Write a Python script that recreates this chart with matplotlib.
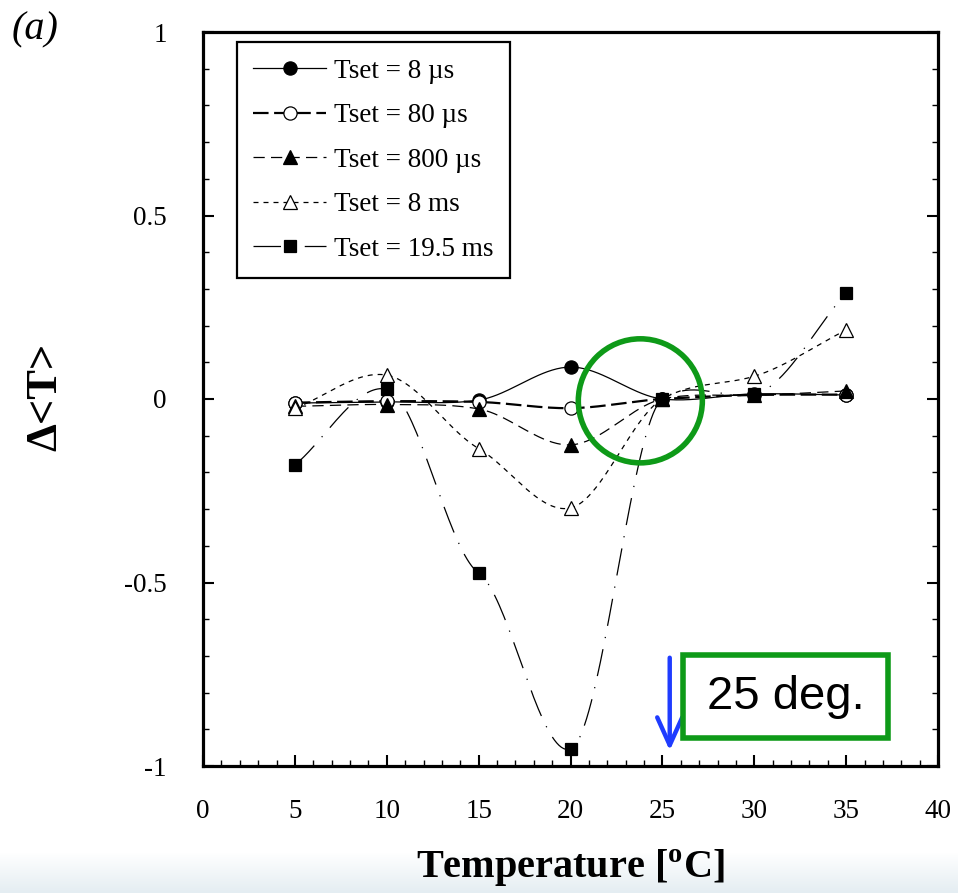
import numpy as np
import matplotlib
matplotlib.use("Agg")
import matplotlib.pyplot as plt
from matplotlib.lines import Line2D
from matplotlib.patches import Ellipse, Rectangle
from matplotlib.ticker import MultipleLocator, FuncFormatter
from matplotlib.colors import LinearSegmentedColormap

plt.rcParams['font.family'] = ['Liberation Serif', 'DejaVu Serif']
plt.rcParams['axes.unicode_minus'] = False
plt.rcParams['mathtext.fontset'] = 'custom'
plt.rcParams['mathtext.rm'] = 'Liberation Serif:bold'
plt.rcParams['mathtext.bf'] = 'Liberation Serif:bold'

# ---- data ----
temperature = [5, 10, 15, 20, 25, 30, 35]
t_8us = [-0.011, -0.008, -0.003, 0.087, 0.0, 0.014, 0.011]
t_80us = [-0.010, -0.006, -0.008, -0.025, 0.0, 0.011, 0.012]
t_800us = [-0.020, -0.015, -0.027, -0.125, 0.0, 0.010, 0.022]
t_8ms = [-0.025, 0.065, -0.135, -0.297, 0.0, 0.062, 0.188]
t_19ms = [-0.180, 0.027, -0.474, -0.954, 0.0, 0.013, 0.289]
labels = ['Tset = 8 \u00b5s', 'Tset = 80 \u00b5s', 'Tset = 800 \u00b5s',
          'Tset = 8 ms', 'Tset = 19.5 ms']


def smooth(x, y, n=40, k=0.8):
    """Cubic Hermite (Catmull-Rom style) curve through the points."""
    x = np.asarray(x, float)
    y = np.asarray(y, float)
    m = np.zeros_like(y)
    m[1:-1] = k * (y[2:] - y[:-2]) / (x[2:] - x[:-2])
    m[0] = (y[1] - y[0]) / (x[1] - x[0])
    m[-1] = (y[-1] - y[-2]) / (x[-1] - x[-2])
    xs, ys = [], []
    for i in range(len(x) - 1):
        h = x[i + 1] - x[i]
        t = np.linspace(0, 1, n, endpoint=(i == len(x) - 2))
        h00 = 2 * t**3 - 3 * t**2 + 1
        h10 = t**3 - 2 * t**2 + t
        h01 = -2 * t**3 + 3 * t**2
        h11 = t**3 - t**2
        xs.append(x[i] + t * h)
        ys.append(h00 * y[i] + h10 * h * m[i] + h01 * y[i + 1] + h11 * h * m[i + 1])
    return np.concatenate(xs), np.concatenate(ys)


fig = plt.figure(figsize=(9.58, 8.93), dpi=100)

# light gradient band at the bottom
bg = fig.add_axes([0, 0, 1, 0.045], zorder=-5)
grad = np.linspace(0, 1, 100).reshape(-1, 1)
cm = LinearSegmentedColormap.from_list('band', ['#e4edf2', '#ffffff'])
bg.imshow(grad, aspect='auto', cmap=cm, origin='lower', extent=[0, 1, 0, 1])
bg.set_axis_off()

ax = fig.add_axes([203 / 958, 127 / 893, 735 / 958, 734 / 893])
ax.set_xlim(0, 40)
ax.set_ylim(-1, 1)

series = [
    (t_8us, dict(ls='-', lw=0.9), dict(marker='o', mfc='black', ms=9.5), 0.8),
    (t_80us, dict(ls=(0, (7, 2.5)), lw=1.6), dict(marker='o', mfc='white', ms=9.5), 0.8),
    (t_800us, dict(ls=(0, (9, 5)), lw=0.9), dict(marker='^', mfc='black', ms=9.5), 0.8),
    (t_8ms, dict(ls=(0, (4, 4)), lw=0.9), dict(marker='^', mfc='white', ms=9.5), 0.8),
    (t_19ms, dict(ls=(0, (22, 9, 1, 9)), lw=0.9), dict(marker='s', mfc='black', ms=9), 0.35),
]

handles = []
for i, (vals, lsty, msty, k) in enumerate(series):
    sx, sy = smooth(temperature, vals, k=k)
    ax.plot(sx, sy, color='black', zorder=2 + i * 0.1, **lsty)
for i, (vals, lsty, msty, k) in enumerate(series):
    ax.plot(temperature, vals, ls='none', color='black', mec='black', mew=0.9,
            zorder=3 + i * 0.1, **msty)
    handles.append(Line2D([], [], color='black', mec='black', mew=0.9,
                          label=labels[i], **lsty, **msty))

leg = ax.legend(handles=handles, loc='upper left',
                bbox_to_anchor=(0.046, 0.986), borderaxespad=0, fontsize=19.5,
                frameon=True, fancybox=False, edgecolor='black', framealpha=1,
                handlelength=2.7, handletextpad=0.3, labelspacing=0.72,
                borderpad=0.6, numpoints=1)
leg.get_frame().set_linewidth(1.6)

# ticks
ax.xaxis.set_major_locator(MultipleLocator(5))
ax.xaxis.set_minor_locator(MultipleLocator(1))
ax.yaxis.set_major_locator(MultipleLocator(0.5))
ax.yaxis.set_minor_locator(MultipleLocator(0.1))
ax.yaxis.set_major_formatter(FuncFormatter(lambda v, p: '{:g}'.format(round(v, 2))))
ax.xaxis.set_major_formatter(FuncFormatter(lambda v, p: '{:g}'.format(v)))
ax.tick_params(which='both', direction='in', left=True, right=True,
               top=False, bottom=True, labelsize=19.5)
ax.tick_params(which='major', length=8, width=1.5)
ax.tick_params(which='minor', length=4.5, width=1.0)
ax.tick_params(axis='y', which='major', pad=26)
ax.tick_params(axis='x', which='major', pad=24)
for s in ax.spines.values():
    s.set_linewidth(2.3)

# annotations
ax.add_patch(Ellipse((23.8, -0.005), 6.75, 0.338, fill=False,
                     edgecolor='#0e9a18', lw=4, zorder=6))
ax.annotate('', xy=(25.4, -0.958), xytext=(25.4, -0.705),
            arrowprops=dict(arrowstyle='->,head_length=1.0,head_width=0.45',
                            mutation_scale=20, color='#1f3cff', lw=3.2,
                            shrinkA=0, shrinkB=0),
            zorder=6)
ax.add_patch(Rectangle((26.12, -0.924), 11.16, 0.226, fill=False,
                       edgecolor='#0e9a18', lw=4, zorder=6))
ax.text(31.7, -0.812, '25 deg.', fontsize=34, family=['Liberation Sans', 'DejaVu Sans'],
        ha='center', va='center', zorder=7)

# labels
fig.text(570 / 958, 1 - 868 / 893, r'Temperature [$^{\mathbf{o}}$C]',
         fontsize=29, fontweight='bold', ha='center', va='center')
fig.text(45 / 958, 1 - 397 / 893, '\u0394<T>', fontsize=32, fontweight='bold',
         rotation=90, ha='center', va='center')
fig.text(12 / 958, 1 - 30 / 893, '(a)', fontsize=29, style='italic',
         ha='left', va='center')

fig.savefig('out.png', dpi=100)
